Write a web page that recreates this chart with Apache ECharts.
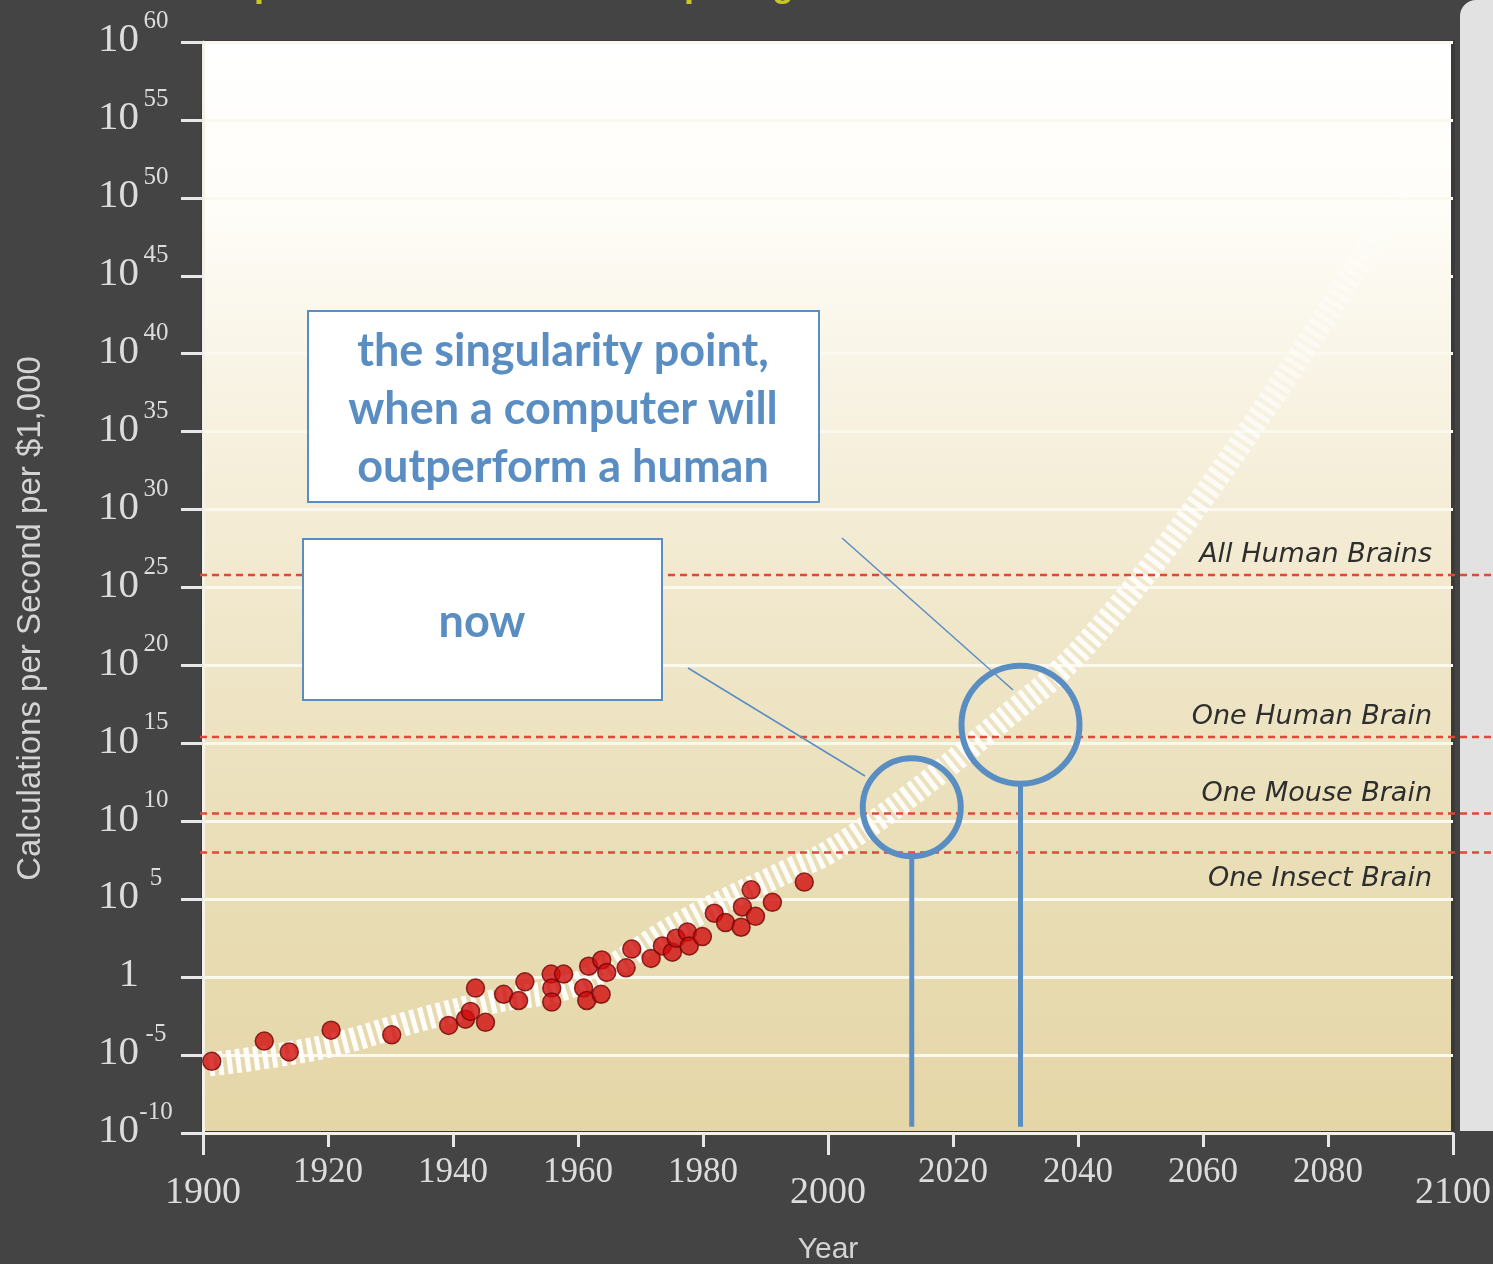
<!DOCTYPE html>
<html>
<head>
<meta charset="utf-8">
<title>Calculations per Second per $1,000</title>
<script src="https://cdn.jsdelivr.net/npm/echarts@6/dist/echarts.min.js"></script>
<style>
    html, body {margin: 0; padding: 0; background: #444444;}
    #main {width: 1493px; height: 1264px;}
</style>
</head>
<body>
<div id="main"></div>
<script>
    // measured machines (year, log10 of calculations per second per $1,000)
    var dotYears = [1901.4, 1909.8, 1913.8, 1920.5, 1930.2, 1939.3, 1942.0, 1942.8, 1943.6, 1945.2,
        1948.1, 1950.5, 1951.5, 1955.7, 1957.7, 1955.8, 1955.8, 1960.9, 1961.4, 1963.7,
        1961.7, 1963.8, 1964.6, 1967.7, 1968.6, 1971.7, 1973.5, 1975.1, 1975.7, 1977.5,
        1977.8, 1979.9, 1981.8, 1983.6, 1986.1, 1986.3, 1987.7, 1988.4, 1991.1, 1996.2];
    var dotExps = [-5.4, -4.1, -4.8, -3.4, -3.7, -3.1, -2.7, -2.2, -0.7, -2.9,
        -1.1, -1.5, -0.3, 0.2, 0.2, -0.7, -1.6, -0.7, -1.5, -1.1,
        0.7, 1.1, 0.3, 0.6, 1.8, 1.2, 2.0, 1.6, 2.5, 2.9,
        2.0, 2.6, 4.1, 3.5, 3.2, 4.5, 5.6, 3.9, 4.8, 6.1];

    // projected trend band
    var trendYears = [1901, 1919, 1935, 1946, 1960, 1977, 1994, 2000, 2013, 2030, 2037, 2044, 2052, 2060, 2068, 2076, 2084, 2092];
    var trendExps = [-5.6, -4.5, -2.7, -1.6, -0.4, 3.6, 6.9, 8.0, 11.6, 17.2, 19.6, 22.6, 26.5, 30.8, 35.4, 40.2, 45.2, 50.3];

    // reference levels
    var levelNames = ['All Human Brains', 'One Human Brain', 'One Mouse Brain', 'One Insect Brain'];
    var levelExps = [25.8, 15.4, 10.5, 8.0];

    // "now" and "singularity" marks
    var calloutYears = [2013.4, 2030.8];
    var calloutExps = [10.9, 16.2];

    var yMin = -10, yMax = 60, yStep = 5;
    var xMin = 1900, xMax = 2100;

    var blue = '#5a8ec3';
    var serif = '"Liberation Serif", "DejaVu Serif", serif';

    var chart = echarts.init(document.getElementById('main'));
    window.addEventListener('resize', function () {
        chart.resize();
    });

    chart.setOption({
        backgroundColor: '#444444',
        animation: false,
        grid: {
            left: 203, right: 40, top: 42, bottom: 131,
            outerBoundsMode: 'none', containLabel: false,
            show: true, borderColor: '#3a3a3a', borderWidth: 4,
            backgroundColor: new echarts.graphic.LinearGradient(0, 0, 0, 1, [
                {offset: 0, color: '#ffffff'},
                {offset: 0.15, color: '#fefdf8'},
                {offset: 0.45, color: '#f3ebd3'},
                {offset: 0.72, color: '#eadfb9'},
                {offset: 1, color: '#e5d6a7'}
            ])
        },
        xAxis: [
            {
                type: 'value', min: xMin, max: xMax, interval: 20,
                name: 'Year', nameLocation: 'middle', nameGap: 102,
                nameTextStyle: {color: '#d4d4d4', fontSize: 30, fontFamily: '"Liberation Sans", Arial, sans-serif'},
                axisLine: {show: true, onZero: false, lineStyle: {color: '#f4f1e6', width: 3}},
                axisTick: {show: true, length: 14, lineStyle: {color: '#e8e8e8', width: 3}},
                axisLabel: {
                    color: '#dcdcdc', fontSize: 35, fontFamily: serif, margin: 22,
                    formatter: function (v) {
                        return v % 100 === 0 ? '' : String(v);
                    }
                },
                splitLine: {show: false}
            },
            {
                type: 'value', min: xMin, max: xMax, interval: 100, position: 'bottom',
                axisLine: {show: false, onZero: false},
                axisTick: {show: true, length: 22, lineStyle: {color: '#e8e8e8', width: 3}},
                axisLabel: {
                    color: '#dcdcdc', fontSize: 38, fontFamily: serif, margin: 41,
                    formatter: function (v) {
                        return String(v);
                    }
                },
                splitLine: {show: false}
            }
        ],
        yAxis: {
            type: 'value', min: yMin, max: yMax, interval: yStep,
            name: 'Calculations per Second per $1,000', nameLocation: 'middle', nameGap: 156,
            nameTextStyle: {
                color: '#d4d4d4', fontSize: 33, padding: [0, 62, 0, 0],
                fontFamily: '"Liberation Sans Narrow", "Liberation Sans", Arial, sans-serif'
            },
            axisLine: {show: true, onZero: false, lineStyle: {color: '#f4f1e6', width: 3}},
            axisTick: {show: true, length: 22, lineStyle: {color: '#e8e8e8', width: 3}},
            axisLabel: {
                margin: 30, padding: [0, 0, 2, 0],
                formatter: function (v) {
                    if (v === 0) return '{b|1}{s| }';
                    return '{b|10}{s|' + v + '}';
                },
                rich: {
                    b: {color: '#dcdcdc', fontSize: 41, lineHeight: 40, fontFamily: serif, verticalAlign: 'bottom'},
                    s: {color: '#dcdcdc', fontSize: 25, lineHeight: 24, fontFamily: serif, verticalAlign: 'bottom',
                        width: 34, align: 'left', padding: [0, 0, 27, 0]}
                }
            },
            splitLine: {show: true, lineStyle: {color: '#fbf8ee', width: 3}}
        },
        series: [
            {
                name: 'trend', type: 'line', xAxisIndex: 0, z: 2,
                data: trendYears.map(function (y, i) {
                    return [y, trendExps[i]];
                }),
                smooth: 0.4, showSymbol: false, silent: true,
                lineStyle: {
                    width: 24, type: [5, 4], cap: 'butt',
                    color: new echarts.graphic.LinearGradient(0, 1, 1, 0, [
                        {offset: 0, color: 'rgba(255,255,255,0.95)'},
                        {offset: 0.72, color: 'rgba(255,255,255,0.9)'},
                        {offset: 1, color: 'rgba(255,255,255,0.15)'}
                    ])
                }
            },
            {
                name: 'levels', type: 'custom', xAxisIndex: 0, z: 3, clip: false, silent: true,
                data: levelExps.map(function (v) {
                    return [xMax, v];
                }),
                encode: {x: 0, y: 1},
                renderItem: function (params, api) {
                    var y = api.coord([xMin, api.value(1)])[1];
                    var xStart = api.coord([xMin, 0])[0] - 3;
                    var xEnd = api.coord([xMax, 0])[0];
                    var below = params.dataIndex === levelNames.length - 1;
                    return {
                        type: 'group',
                        children: [
                            {
                                type: 'line',
                                shape: {x1: xStart, y1: y, x2: api.getWidth(), y2: y},
                                style: {stroke: '#dc4a3b', lineWidth: 2.5, lineDash: [7, 5]}
                            },
                            {
                                type: 'text',
                                style: {
                                    text: levelNames[params.dataIndex],
                                    x: xEnd - 21, y: below ? y + 27 : y - 20,
                                    align: 'right', verticalAlign: 'middle',
                                    font: 'italic 27px "DejaVu Sans", sans-serif',
                                    fill: '#2e2e2e'
                                }
                            }
                        ]
                    };
                }
            },
            {
                name: 'machines', type: 'scatter', xAxisIndex: 0, z: 4,
                data: dotYears.map(function (y, i) {
                    return [y, dotExps[i]];
                }),
                symbolSize: 18,
                itemStyle: {color: '#d00c0c', borderColor: '#6e0606', borderWidth: 1.5}
            },
            {
                name: 'callouts', type: 'custom', xAxisIndex: 0, z: 5, clip: false, silent: true,
                data: calloutYears.map(function (y, i) {
                    return [y, calloutExps[i]];
                }),
                encode: {x: 0, y: 1},
                renderItem: function (params, api) {
                    var p = api.coord([api.value(0), api.value(1)]);
                    var base = api.coord([api.value(0), -9.6])[1];
                    var r = params.dataIndex === 0 ? 49 : 59;
                    return {
                        type: 'group',
                        children: [
                            {
                                type: 'circle',
                                shape: {cx: p[0], cy: p[1], r: r},
                                style: {stroke: blue, lineWidth: 6, fill: 'none'}
                            },
                            {
                                type: 'line',
                                shape: {x1: p[0], y1: p[1] + r, x2: p[0], y2: base},
                                style: {stroke: blue, lineWidth: 5}
                            }
                        ]
                    };
                }
            }
        ],
        graphic: [
            {
                type: 'text', z: 1, silent: true,
                style: {
                    text: 'Exponential Growth of Computing', x: 210, y: 4,
                    verticalAlign: 'bottom', font: 'bold 36px "Liberation Sans", Arial, sans-serif',
                    fill: '#c9c62a'
                }
            },
            {
                type: 'rect', z: 1, silent: true,
                shape: {x: 1460, y: 0, width: 40, height: 1131, r: [16, 0, 0, 0]},
                style: {fill: '#e2e2e2'}
            },
            {
                type: 'line', z: 100, silent: true,
                shape: {x1: 842, y1: 538, x2: 1013, y2: 690},
                style: {stroke: blue, lineWidth: 1.5}
            },
            {
                type: 'line', z: 100, silent: true,
                shape: {x1: 688, y1: 668, x2: 865, y2: 776},
                style: {stroke: blue, lineWidth: 1.5}
            },
            {
                type: 'rect', z: 100, silent: true,
                shape: {x: 308, y: 311, width: 511, height: 191},
                style: {fill: '#ffffff', stroke: blue, lineWidth: 2}
            },
            {
                type: 'text', z: 101, silent: true,
                style: {
                    text: 'the singularity point,\nwhen a computer will\noutperform a human',
                    x: 563, y: 409, align: 'center', verticalAlign: 'middle',
                    font: 'bold 45px Lato, "Open Sans", sans-serif', lineHeight: 58, fill: blue
                }
            },
            {
                type: 'rect', z: 100, silent: true,
                shape: {x: 303, y: 539, width: 359, height: 161},
                style: {fill: '#ffffff', stroke: blue, lineWidth: 2}
            },
            {
                type: 'text', z: 101, silent: true,
                style: {
                    text: 'now', x: 482, y: 622, align: 'center', verticalAlign: 'middle',
                    font: 'bold 45px Lato, "Open Sans", sans-serif', fill: blue
                }
            }
        ]
    });
</script>
</body>
</html>
